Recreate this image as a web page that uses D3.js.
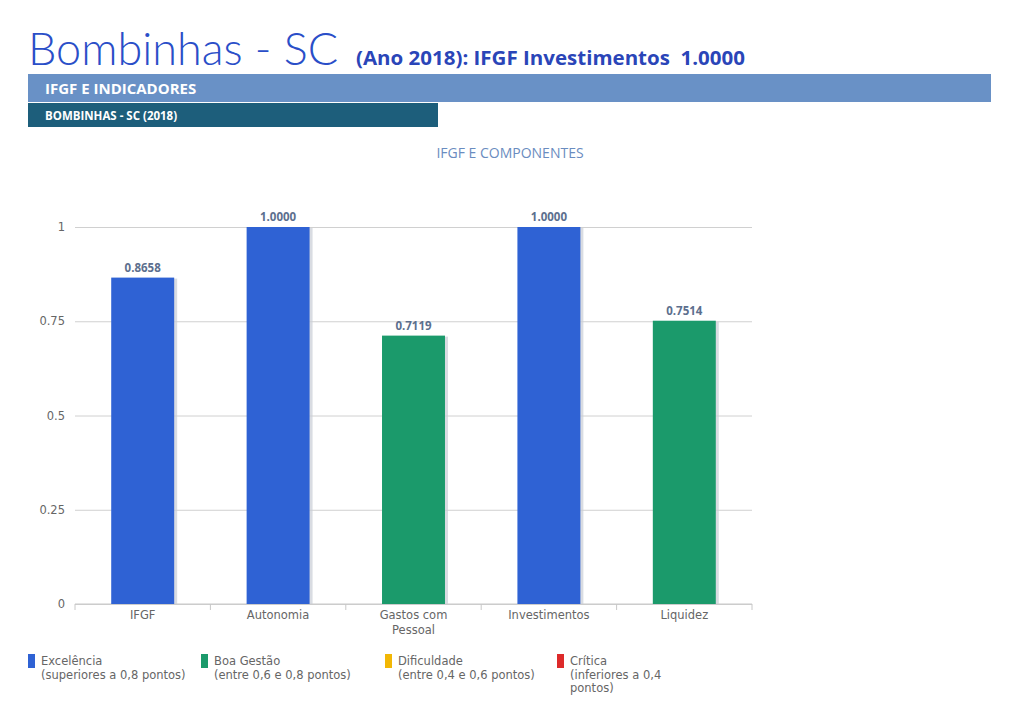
<!DOCTYPE html>
<html><head><meta charset="utf-8">
<script src="https://cdn.jsdelivr.net/npm/d3@7"></script>
<style>
body{margin:0;background:#fff;}
svg{display:block;font-family:"Open Sans",Lato,sans-serif;}
text{white-space:pre;}
</style></head>
<body>
<svg id="chart" width="1024" height="702"></svg>
<script>
const categories = ["IFGF", "Autonomia", "Gastos com Pessoal", "Investimentos", "Liquidez"];
const values = [0.8658, 1.0000, 0.7119, 1.0000, 0.7514];
const yTicks = [0, 0.25, 0.5, 0.75, 1];
const legendNames = ["Excelência", "Boa Gestão", "Dificuldade", "Crítica"];
const legendDescs = ["(superiores a 0,8 pontos)", "(entre 0,6 e 0,8 pontos)", "(entre 0,4 e 0,6 pontos)", "(inferiores a 0,4|pontos)"];
const legendColors = ["#2f62d4", "#1b9a6b", "#f2b705", "#dd2a2a"];
const titleMain = "Bombinhas - SC";
const titleSub = "(Ano 2018): IFGF Investimentos  1.0000";

const smallFont = "'DejaVu Sans', sans-serif";
function colorFor(v){ return v >= 0.8 ? legendColors[0] : v >= 0.6 ? legendColors[1] : v >= 0.4 ? legendColors[2] : legendColors[3]; }

const svg = d3.select("#chart");

// Header
svg.append("text").attr("x", 28).attr("y", 65).attr("font-size", 45).attr("font-weight", 300)
  .attr("font-family", "Lato, sans-serif").attr("fill", "#2a4ec8").text(titleMain);
svg.append("text").attr("x", 356).attr("y", 65).attr("font-size", 19).attr("font-weight", 700)
  .attr("fill", "#2a45b8").attr("textLength", 389).attr("lengthAdjust", "spacingAndGlyphs").text(titleSub);
svg.append("rect").attr("x", 28).attr("y", 74).attr("width", 963).attr("height", 28).attr("fill", "#6991c6");
svg.append("text").attr("x", 45).attr("y", 94).attr("font-size", 15).attr("font-weight", 700).attr("fill", "#fff").text("IFGF E INDICADORES");
svg.append("rect").attr("x", 28).attr("y", 103).attr("width", 410).attr("height", 24).attr("fill", "#1d5e7b");
svg.append("text").attr("x", 45).attr("y", 120).attr("font-size", 11.5).attr("font-weight", 700).attr("fill", "#fff").text("BOMBINHAS - SC (2018)");

svg.append("text").attr("x", 510).attr("y", 158).attr("text-anchor", "middle").attr("font-size", 14)
  .attr("fill", "#6a8cc0").text("IFGF E COMPONENTES");

// Chart
const x = d3.scaleBand().domain(categories).range([75, 752]).paddingInner(0.535).paddingOuter(0.2675);
const xTickScale = d3.scaleBand().domain(categories).range([75, 752]);
const y = d3.scaleLinear().domain([0, 1]).range([604, 227]);

const grid = svg.append("g").attr("transform", "translate(75,0)")
  .call(d3.axisLeft(y).tickValues(yTicks).tickSize(-677).tickFormat(d3.format("~g")).tickPadding(10));
grid.select(".domain").remove();
grid.selectAll(".tick line").attr("stroke", "#d0d0d0");
grid.selectAll(".tick text").attr("fill", "#666").attr("font-size", 11.5).attr("font-family", smallFont);

// x axis line and ticks
svg.append("line").attr("x1", 75).attr("x2", 752).attr("y1", y(0)).attr("y2", y(0)).attr("stroke", "#c8c8c8");
svg.selectAll(".xt").data(categories.concat(["__end"])).enter().append("line")
  .attr("x1", (d, i) => i < categories.length ? xTickScale(d) : 752)
  .attr("x2", (d, i) => i < categories.length ? xTickScale(d) : 752)
  .attr("y1", y(0)).attr("y2", y(0) + 6).attr("stroke", "#c8c8c8");

// shadows
svg.selectAll(".shadow").data(values).enter().append("rect")
  .attr("x", (d, i) => x(categories[i]) + 3).attr("y", d => y(d) + 1)
  .attr("width", x.bandwidth()).attr("height", d => y(0) - y(d) - 1)
  .attr("fill", "#c9cdd6").attr("opacity", 0.7);
svg.selectAll(".bar").data(values).enter().append("rect")
  .attr("x", (d, i) => x(categories[i])).attr("y", d => y(d))
  .attr("width", x.bandwidth()).attr("height", d => y(0) - y(d))
  .attr("fill", d => colorFor(d));
svg.selectAll(".vl").data(values).enter().append("text")
  .attr("x", (d, i) => x(categories[i]) + x.bandwidth() / 2).attr("y", d => y(d) - 6)
  .attr("text-anchor", "middle").attr("font-size", 11.5).attr("font-weight", 700).attr("fill", "#5c6f8e")
  .text(d => d.toFixed(4));

// category labels
const catLabels = { "Gastos com Pessoal": ["Gastos com", "Pessoal"] };
const cl = svg.selectAll(".cl").data(categories).enter().append("text")
  .attr("x", d => xTickScale(d) + xTickScale.bandwidth() / 2).attr("y", 619)
  .attr("text-anchor", "middle").attr("font-size", 11.5).attr("font-family", smallFont).attr("fill", "#666");
cl.each(function(d){
  const lines = catLabels[d] || [d];
  d3.select(this).selectAll("tspan").data(lines).enter().append("tspan")
    .attr("x", xTickScale(d) + xTickScale.bandwidth() / 2).attr("dy", (l, i) => i ? 15 : 0).text(l => l);
});

// legend
const legX = [28, 201, 385, 557];
const lg = svg.selectAll(".lg").data(legendNames).enter().append("g")
  .attr("transform", (d, i) => `translate(${legX[i]},654)`);
lg.append("rect").attr("x", 0).attr("y", 0).attr("width", 7).attr("height", 14).attr("fill", (d, i) => legendColors[i]);
lg.each(function(d, i){
  const lines = [d].concat(legendDescs[i].split("|"));
  const t = d3.select(this).append("text").attr("x", 13).attr("y", 11).attr("font-size", 11.5)
    .attr("font-family", smallFont).attr("fill", "#666");
  t.selectAll("tspan").data(lines).enter().append("tspan")
    .attr("x", 13).attr("dy", (l, j) => j ? 13.5 : 0).text(l => l);
});
</script>
</body></html>
